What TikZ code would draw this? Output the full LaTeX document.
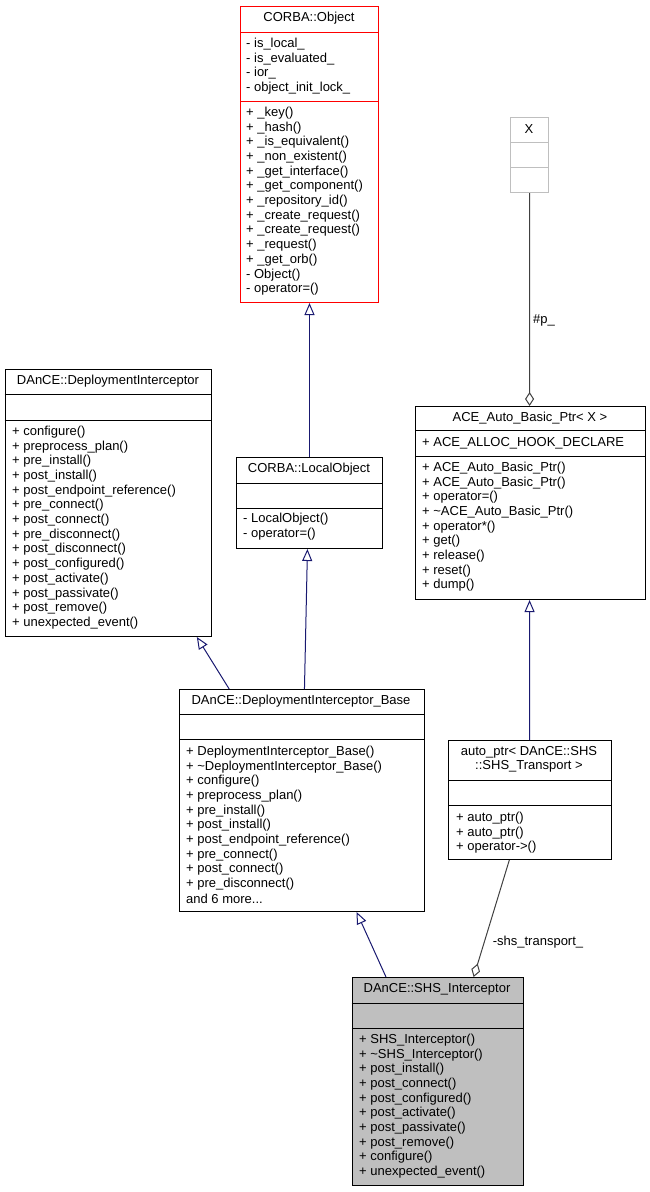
\documentclass[tikz,border=0pt]{standalone}
\usepackage{fontspec}
\setmainfont{Liberation Sans}
\usetikzlibrary{arrows.meta,calc}
\definecolor{edgeblue}{HTML}{191970}
\definecolor{agg}{HTML}{404040}
\definecolor{lgray}{HTML}{BFBFBF}
\begin{document}
\begin{tikzpicture}[x=1pt,y=-1pt,
  box/.style={draw=black,line width=1pt,anchor=north west,inner sep=0pt,fill=white},
  txt/.style={anchor=west,inner sep=0pt,font=\fontsize{13}{14}\selectfont},
  ttl/.style={anchor=center,inner sep=0pt,font=\fontsize{13}{14}\selectfont},
  inh/.style={draw=edgeblue,line width=1pt,-{Triangle[open,length=12pt,width=10pt]}},
  aggr/.style={draw=agg,line width=1pt,-{Diamond[open,length=14pt,width=9pt]}},
  lbl/.style={anchor=west,inner sep=0pt,font=\fontsize{13}{14}\selectfont}]
\useasboundingbox (0,0) rectangle (649,1192);
\newcommand\sepline[2]{\draw[line width=1pt,#2] ([yshift=-#1pt]\boxname.north west) -- ([yshift=-#1pt]\boxname.north east);}
\newcommand\mylines[3]{\foreach \t [count=\i from 0] in {#3} \node[txt] at (#1,{#2+\i*14.7}) {\t};}
\def\andmore{and 6 more...}

% CORBA::Object
\node[box,draw=red,minimum width=138pt,minimum height=296pt] (obj) at (240,6) {};
\def\boxname{obj}\sepline{26}{red}\sepline{95}{red}
\node[ttl] (objt) at (309,18) {CORBA::Object};
\mylines{246}{44}{- is\_local\_,- is\_evaluated\_,- ior\_,- object\_init\_lock\_}
\mylines{246}{113}{+ \_key(),+ \_hash(),+ \_is\_equivalent(),+ \_non\_existent(),+ \_get\_interface(),+ \_get\_component(),+ \_repository\_id(),+ \_create\_request(),+ \_create\_request(),+ \_request(),+ \_get\_orb(),- Object(),- operator=()}

% X
\node[box,draw=lgray,minimum width=38pt,minimum height=75pt] (x) at (510,117) {};
\def\boxname{x}\sepline{25}{lgray}\sepline{50}{lgray}
\node[ttl] at (529,129) {X};

% DeploymentInterceptor
\node[box,minimum width=206.5pt,minimum height=267pt] (di) at (4.5,369) {};
\def\boxname{di}\sepline{25}{}\sepline{51}{}
\node[ttl] at (108,381) {DAnCE::DeploymentInterceptor};
\mylines{12}{432}{+ configure(),+ preprocess\_plan(),+ pre\_install(),+ post\_install(),+ post\_endpoint\_reference(),+ pre\_connect(),+ post\_connect(),+ pre\_disconnect(),+ post\_disconnect(),+ post\_configured(),+ post\_activate(),+ post\_passivate(),+ post\_remove(),+ unexpected\_event()}

% LocalObject
\node[box,minimum width=146pt,minimum height=91pt] (lo) at (236,457) {};
\def\boxname{lo}\sepline{26}{}\sepline{51}{}
\node[ttl] at (309,469) {CORBA::LocalObject};
\mylines{243}{519}{- LocalObject(),- operator=()}

% ACE_Auto_Basic_Ptr
\node[box,minimum width=230pt,minimum height=193pt] (ace) at (415,406) {};
\def\boxname{ace}\sepline{24}{}\sepline{50}{}
\node[ttl] at (530,418) {ACE\_Auto\_Basic\_Ptr< X >};
\node[txt] at (422,443) {+ ACE\_ALLOC\_HOOK\_DECLARE};
\mylines{422}{468}{+ ACE\_Auto\_Basic\_Ptr(),+ ACE\_Auto\_Basic\_Ptr(),+ operator=(),+ \textasciitilde ACE\_Auto\_Basic\_Ptr(),+ operator*(),+ get(),+ release(),+ reset(),+ dump()}

% DeploymentInterceptor_Base
\node[box,minimum width=245pt,minimum height=222pt] (base) at (179,689) {};
\def\boxname{base}\sepline{25}{}\sepline{50}{}
\node[ttl] at (301,701) {DAnCE::DeploymentInterceptor\_Base};
\mylines{186}{752}{+ DeploymentInterceptor\_Base(),+ \textasciitilde DeploymentInterceptor\_Base(),+ configure(),+ preprocess\_plan(),+ pre\_install(),+ post\_install(),+ post\_endpoint\_reference(),+ pre\_connect(),+ post\_connect(),+ pre\_disconnect(),\andmore}

% auto_ptr
\node[box,minimum width=163pt,minimum height=119pt] (ap) at (448,740) {};
\def\boxname{ap}\sepline{40}{}\sepline{65}{}
\node[ttl] at (529,752) {auto\_ptr< DAnCE::SHS};
\node[ttl] at (529,766) {::SHS\_Transport >};
\mylines{456}{818}{+ auto\_ptr(),+ auto\_ptr(),+ operator->()}

% SHS_Interceptor
\node[box,fill=lgray,minimum width=171.5pt,minimum height=208pt] (shs) at (351.5,977) {};
\def\boxname{shs}\sepline{26}{}\sepline{51}{}
\node[ttl] at (437,989) {DAnCE::SHS\_Interceptor};
\mylines{359}{1040}{+ SHS\_Interceptor(),+ \textasciitilde SHS\_Interceptor(),+ post\_install(),+ post\_connect(),+ post\_configured(),+ post\_activate(),+ post\_passivate(),+ post\_remove(),+ configure(),+ unexpected\_event()}

% edges
\draw[inh] ($(lo.north west)!0.5!(lo.north east)$) -- ($(obj.south west)!0.5!(obj.south east)$);
\draw[inh] ($(base.north west)!0.204!(base.north east)$) -- ($(di.south west)!0.927!(di.south east)$);
\draw[inh] ($(base.north west)!0.51!(base.north east)$) -- ($(lo.south west)!0.486!(lo.south east)$);
\draw[inh] ($(shs.north west)!0.2!(shs.north east)$) -- ($(base.south west)!0.722!(base.south east)$);
\draw[inh] ($(ap.north west)!0.497!(ap.north east)$) -- ($(ace.south west)!0.496!(ace.south east)$);
\draw[aggr] (x.south) -- node[lbl,pos=0.6,xshift=3pt] {\#p\_} ($(ace.north west)!0.496!(ace.north east)$);
\draw[aggr] ($(ap.south west)!0.374!(ap.south east)$) -- node[lbl,pos=0.7,xshift=8pt] {-shs\_transport\_} ($(shs.north west)!0.708!(shs.north east)$);
\end{tikzpicture}
\end{document}
